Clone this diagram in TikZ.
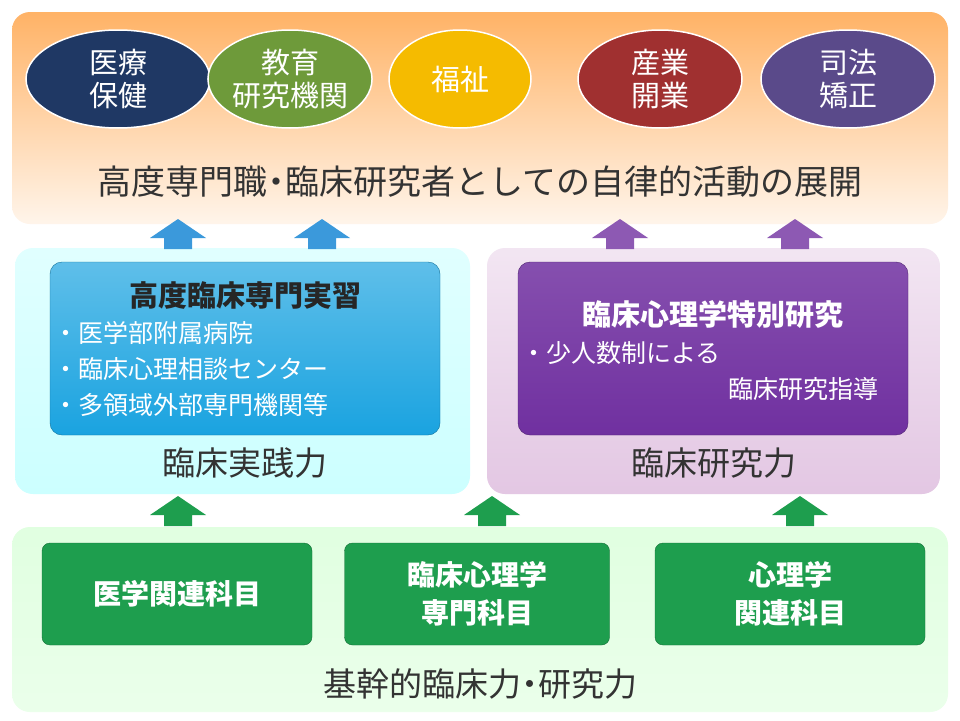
\documentclass[tikz,border=0pt]{standalone}
\usepackage{fontspec}
\setmainfont{Noto Sans CJK JP}
\usetikzlibrary{shapes.geometric}
\definecolor{navy}{HTML}{1F3864}
\definecolor{olive}{HTML}{6E9A3A}
\definecolor{gold}{HTML}{F5BB00}
\definecolor{dred}{HTML}{A03030}
\definecolor{dpurp}{HTML}{5A4A8A}
\definecolor{bblue}{HTML}{1AA3E0}
\definecolor{vpurp}{HTML}{7030A0}
\definecolor{ggreen}{HTML}{1E9E4E}
\tikzset{
 oval/.style={ellipse,minimum width=180pt,minimum height=98pt,draw=white,line width=1.5pt,text=white,font=\fontsize{29}{33}\selectfont,align=center,inner sep=0pt},
 gbox/.style={rounded corners=8pt,fill=ggreen,draw=ggreen!70!black,text=white,font=\bfseries\fontsize{28}{38}\selectfont,align=center},
 captext/.style={font=\fontsize{33}{36}\selectfont,text=black!80},
 arrowpic/.pic={\fill (-14,15) -- (-14,4) -- (-28,4) -- (0,-15) -- (28,4) -- (14,4) -- (14,15) -- cycle;}
}
\begin{document}
\begin{tikzpicture}[x=1pt,y=-1pt]
\useasboundingbox (0,0) rectangle (960,720);
\fill[white] (0,0) rectangle (960,720);
% panels
\shade[rounded corners=18pt,top color=orange!60,bottom color=orange!8] (12,12) rectangle (948,224);
\shade[rounded corners=18pt,top color=cyan!12,bottom color=cyan!20] (15,248) rectangle (470,494);
\shade[rounded corners=18pt,top color=violet!10,bottom color=violet!22] (487,248) rectangle (940,494);
\shade[rounded corners=18pt,top color=green!12,bottom color=green!8] (12,527) rectangle (948,712);
% ovals
\node[oval,fill=navy,minimum width=184pt] (o1) at (118,79) {医療\\保健};
\node[oval,fill=olive,minimum width=160pt] (o2) at (290,79) {教育\\研究機関};
\node[oval,fill=gold,minimum width=142pt] (o3) at (460,79) {福祉};
\node[oval,fill=dred,minimum width=164pt] (o4) at (660,79) {産業\\開業};
\node[oval,fill=dpurp,minimum width=174pt] (o5) at (848,79) {司法\\矯正};
\node[captext,font=\fontsize{34}{38}\selectfont] (t1) at (480,182) {高度専門職\kern-8pt・\kern-8pt臨床研究者としての自律的活動の展開};
% arrows
\pic[fill=cyan!70!blue!80] at (178,234) {arrowpic};
\pic[fill=cyan!70!blue!80] at (322,234) {arrowpic};
\pic[fill=vpurp!80] at (620,234) {arrowpic};
\pic[fill=vpurp!80] at (795,234) {arrowpic};
\pic[fill=ggreen] at (178,511) {arrowpic};
\pic[fill=ggreen] at (492,511) {arrowpic};
\pic[fill=ggreen] at (800,511) {arrowpic};
% inner boxes
\shade[rounded corners=12pt,top color=bblue!70,bottom color=bblue,draw=bblue!70!black] (50,262) rectangle (440,435);
\node[font=\bfseries\fontsize{29}{33}\selectfont,text=black!85] (h1) at (245,296) {高度臨床専門実習};
\node[anchor=north west,align=left,font=\fontsize{25}{36}\selectfont,text=white] (l1) at (58,318) {\kern-8pt・医学部附属病院\\\kern-8pt・臨床心理相談センター\\\kern-8pt・多領域外部専門機関等};
\node[captext] (c1) at (245,463) {臨床実践力};
\shade[rounded corners=12pt,top color=vpurp!85,bottom color=vpurp,draw=vpurp!70!black] (518,262) rectangle (908,435);
\node[font=\bfseries\fontsize{29}{33}\selectfont,text=white] (h2) at (713,315) {臨床心理学特別研究};
\node[anchor=north west,font=\fontsize{25}{29}\selectfont,text=white] (l2) at (526,338) {\kern-8pt・少人数制による};
\node[anchor=north east,font=\fontsize{25}{29}\selectfont,text=white] (l3) at (882,374) {臨床研究指導};
\node[captext] (c2) at (714,463) {臨床研究力};
% green boxes
\node[gbox,minimum width=270pt,minimum height=102pt] (g1) at (177,594) {医学関連科目};
\node[gbox,minimum width=265pt,minimum height=102pt] (g2) at (477,594) {臨床心理学\\専門科目};
\node[gbox,minimum width=270pt,minimum height=102pt] (g3) at (790,594) {心理学\\関連科目};
\node[captext] (c3) at (480,684) {基幹的臨床力\kern-8pt・\kern-8pt研究力};
\end{tikzpicture}
\end{document}
